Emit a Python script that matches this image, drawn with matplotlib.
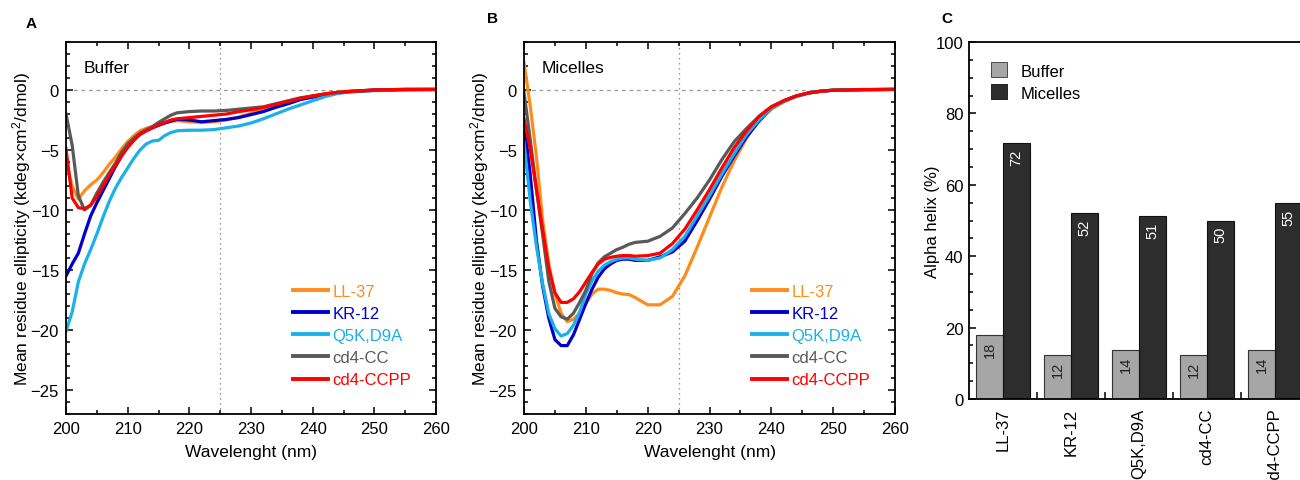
import numpy as np
import matplotlib
matplotlib.use("Agg")
import matplotlib.pyplot as plt
from matplotlib.ticker import MultipleLocator, FixedLocator
from matplotlib.patches import Patch

plt.rcParams['font.family'] = ['Liberation Sans', 'DejaVu Sans']
plt.rcParams['mathtext.fontset'] = 'custom'
plt.rcParams['mathtext.rm'] = 'Liberation Sans'
plt.rcParams['mathtext.it'] = 'Liberation Sans:italic'

# ---------------- data ----------------
wavelength = [200, 201, 202, 203, 204, 205, 206, 207, 208, 209, 210, 211, 212, 213, 214,
              215, 216, 217, 218, 220, 222, 224, 226, 228, 230, 232, 234, 236, 238, 240,
              242, 244, 246, 248, 250, 255, 260]

peptides = ['LL-37', 'KR-12', 'Q5K,D9A', 'cd4-CC', 'cd4-CCPP']
colors = ['#FF8C1A', '#0000CC', '#1AB0EA', '#595959', '#FF0000']

# Buffer spectra (kdeg cm2/dmol)
buf_ll37 = [-6.0, -8.0, -9.1, -8.4, -7.9, -7.5, -6.9, -6.2, -5.6, -4.9, -4.3, -3.8, -3.4, -3.2, -3.05,
            -2.9, -2.75, -2.6, -2.55, -2.65, -2.7, -2.65, -2.5, -2.25, -1.95, -1.6, -1.25, -0.95, -0.7, -0.5,
            -0.32, -0.2, -0.1, -0.05, 0.0, 0.05, 0.05]
buf_kr12 = [-15.5, -14.5, -13.6, -12.0, -10.5, -9.4, -8.4, -7.4, -6.4, -5.5, -4.7, -4.1, -3.7, -3.4, -3.15,
            -2.95, -2.75, -2.6, -2.45, -2.5, -2.65, -2.55, -2.45, -2.3, -2.05, -1.8, -1.45, -1.15, -0.8, -0.6,
            -0.4, -0.25, -0.12, -0.06, 0.0, 0.05, 0.05]
buf_q5k = [-20.1, -18.5, -16.0, -14.5, -13.3, -12.0, -10.6, -9.3, -8.2, -7.3, -6.5, -5.7, -5.0, -4.5, -4.25,
           -4.2, -3.8, -3.55, -3.4, -3.35, -3.35, -3.3, -3.15, -3.0, -2.75, -2.4, -2.0, -1.6, -1.25, -0.9,
           -0.55, -0.3, -0.15, -0.1, -0.05, 0.0, 0.03]
buf_cc = [-2.0, -4.6, -8.8, -10.0, -9.6, -8.6, -7.7, -6.9, -6.1, -5.2, -4.5, -4.0, -3.6, -3.3, -3.05,
          -2.7, -2.4, -2.1, -1.9, -1.8, -1.75, -1.75, -1.7, -1.6, -1.5, -1.4, -1.15, -0.9, -0.65, -0.5,
          -0.33, -0.2, -0.15, -0.1, -0.03, 0.03, 0.05]
buf_ccpp = [-4.9, -9.0, -9.8, -9.9, -9.6, -8.9, -8.0, -7.1, -6.3, -5.5, -4.8, -4.2, -3.7, -3.4, -3.15,
            -2.9, -2.7, -2.5, -2.4, -2.3, -2.2, -2.1, -2.0, -1.8, -1.65, -1.45, -1.2, -0.95, -0.7, -0.5,
            -0.33, -0.2, -0.12, -0.06, 0.0, 0.05, 0.05]

# Micelle spectra
mic_ll37 = [2.3, -1.3, -5.5, -10.8, -14.5, -17.0, -18.6, -19.3, -19.1, -18.6, -17.8, -17.0, -16.6, -16.6, -16.7,
            -16.9, -17.0, -17.05, -17.3, -17.9, -17.9, -17.2, -15.5, -13.1, -10.6, -8.1, -5.9, -4.0, -2.5, -1.6,
            -1.0, -0.55, -0.25, -0.1, 0.0, 0.05, 0.05]
mic_kr12 = [-2.7, -7.0, -12.5, -16.3, -19.0, -20.8, -21.3, -21.3, -20.4, -19.1, -17.8, -16.6, -15.6, -14.9, -14.5,
            -14.2, -14.1, -14.1, -14.2, -14.2, -13.9, -13.5, -12.6, -10.9, -9.1, -7.2, -5.5, -3.9, -2.6, -1.5,
            -0.9, -0.5, -0.25, -0.1, -0.02, 0.03, 0.05]
mic_q5k = [-4.4, -9.2, -13.0, -16.1, -18.6, -19.9, -20.5, -20.3, -19.6, -18.5, -17.0, -15.9, -15.1, -14.6, -14.3,
           -14.1, -14.0, -14.0, -14.1, -14.2, -14.0, -13.3, -12.2, -10.5, -8.8, -7.0, -5.3, -3.7, -2.5, -1.5,
           -0.95, -0.55, -0.25, -0.1, -0.02, 0.03, 0.05]
mic_cc = [-0.2, -4.1, -8.25, -12.0, -15.9, -18.2, -18.9, -19.1, -18.6, -17.7, -16.7, -15.3, -14.4, -13.9, -13.6,
          -13.3, -13.1, -12.85, -12.7, -12.6, -12.2, -11.5, -10.3, -9.0, -7.5, -5.8, -4.3, -3.2, -2.2, -1.4,
          -0.9, -0.5, -0.25, -0.1, -0.02, 0.03, 0.05]
mic_ccpp = [-2.4, -4.9, -8.25, -11.6, -14.8, -16.9, -17.7, -17.7, -17.4, -16.8, -16.0, -15.2, -14.5, -14.1, -13.95,
            -13.85, -13.8, -13.8, -13.85, -13.8, -13.6, -12.8, -11.6, -10.0, -8.3, -6.5, -4.8, -3.4, -2.2, -1.4,
            -0.9, -0.5, -0.25, -0.1, -0.02, 0.03, 0.05]

# Alpha helix content (%)
helix_buffer = [17.8, 12.3, 13.8, 12.4, 13.8]
helix_micelles = [71.6, 52.0, 51.3, 50.0, 54.8]

buffer_series = [buf_ll37, buf_kr12, buf_q5k, buf_cc, buf_ccpp]
micelle_series = [mic_ll37, mic_kr12, mic_q5k, mic_cc, mic_ccpp]

# ---------------- figure ----------------
W, H = 1300, 481
fig = plt.figure(figsize=(W / 100, H / 100), dpi=100)

def px_axes(x0, y0, x1, y1):
    return fig.add_axes([x0 / W, 1 - y1 / H, (x1 - x0) / W, (y1 - y0) / H])

FS = 12

def spectrum_panel(ax, series, title):
    for vals, name, c in zip(series, peptides, colors):
        ax.plot(wavelength, vals, color=c, lw=2.3, label=name, solid_joinstyle='round')
    ax.axhline(0, color='#999999', lw=0.9, ls=(0, (3, 3)), zorder=0)
    ax.axvline(225, color='#777777', lw=0.9, ls=(0, (1, 3)), zorder=0)
    ax.set_xlim(200, 260)
    ax.set_ylim(-27, 4)
    ax.xaxis.set_major_locator(MultipleLocator(10))
    ax.xaxis.set_minor_locator(MultipleLocator(5))
    ax.yaxis.set_major_locator(FixedLocator([0, -5, -10, -15, -20, -25]))
    ax.yaxis.set_minor_locator(MultipleLocator(1))
    ax.tick_params(which='both', direction='in', top=True, right=True, labelsize=FS, width=1.1)
    ax.tick_params(which='major', length=5, pad=5)
    ax.tick_params(which='minor', length=3)
    for s in ax.spines.values():
        s.set_linewidth(1.3)
    ax.set_xlabel('Wavelenght (nm)', fontsize=FS + 0.5, labelpad=6)
    ax.set_ylabel('Mean residue ellipticity (kdeg×cm$^{2}$/dmol)', fontsize=FS + 0.5, labelpad=-2)
    ax.text(202.9, 1.9, title, fontsize=FS + 0.5, va='center', ha='left')
    leg = ax.legend(loc='lower right', bbox_to_anchor=(0.965, 0.04), frameon=False, fontsize=FS,
                    handlelength=2.1, handletextpad=0.25, labelspacing=0.43, borderaxespad=0.3)
    for t, c in zip(leg.get_texts(), colors):
        t.set_color(c)
    for l in leg.get_lines():
        l.set_linewidth(2.8)

axA = px_axes(66, 43, 436, 415)
spectrum_panel(axA, buffer_series, 'Buffer')
axB = px_axes(524, 43, 895, 415)
spectrum_panel(axB, micelle_series, 'Micelles')

# Panel C: bars
axC = px_axes(969, 43, 1309, 400)
x = np.arange(len(peptides)) + 0.5
bw = 0.4
b1 = axC.bar(x - bw / 2, helix_buffer, bw, color='#A6A6A6', edgecolor='#333333', lw=0.8, label='Buffer')
b2 = axC.bar(x + bw / 2, helix_micelles, bw, color='#2D2D2D', edgecolor='#111111', lw=0.8, label='Micelles')
for rect, v in zip(b1, helix_buffer):
    axC.annotate(f'{round(v)}', (rect.get_x() + rect.get_width() / 2, v), xytext=(0, -4),
                 textcoords='offset points', rotation=90, ha='center', va='top', fontsize=10.5, color='#222222')
for rect, v in zip(b2, helix_micelles):
    axC.annotate(f'{round(v)}', (rect.get_x() + rect.get_width() / 2, v), xytext=(0, -4),
                 textcoords='offset points', rotation=90, ha='center', va='top', fontsize=10.5, color='white')
axC.set_xlim(0, 5)
axC.set_ylim(0, 100)
axC.yaxis.set_major_locator(MultipleLocator(20))
axC.yaxis.set_minor_locator(MultipleLocator(5))
axC.set_xticks(x)
axC.set_xticklabels(peptides, rotation=90, fontsize=FS)
axC.xaxis.set_minor_locator(FixedLocator([1, 2, 3, 4]))
axC.tick_params(axis='x', which='major', length=0, pad=6)
axC.tick_params(axis='x', which='minor', direction='in', length=5, width=1.1)
axC.tick_params(axis='y', which='both', direction='in', labelsize=FS, width=1.1)
axC.tick_params(axis='y', which='major', length=5, pad=4)
axC.tick_params(axis='y', which='minor', length=3)
for s in axC.spines.values():
    s.set_linewidth(1.3)
axC.set_ylabel('Alpha helix (%)', fontsize=FS, labelpad=-3)
axC.legend(handles=[Patch(facecolor='#A6A6A6', edgecolor='#333333', lw=0.6, label='Buffer'),
                    Patch(facecolor='#2D2D2D', edgecolor='#111111', lw=0.6, label='Micelles')],
           loc='upper left', bbox_to_anchor=(0.02, 0.985), frameon=False, fontsize=FS,
           handlelength=1.0, handleheight=1.0, handletextpad=0.8, labelspacing=0.35)

fig.text(31 / W, 1 - 24 / H, 'A', fontsize=11, fontweight='bold', ha='center', va='center')
fig.text(492 / W, 1 - 19 / H, 'B', fontsize=11, fontweight='bold', ha='center', va='center')
fig.text(947 / W, 1 - 19 / H, 'C', fontsize=11, fontweight='bold', ha='center', va='center')

fig.savefig('out.png', dpi=100)
